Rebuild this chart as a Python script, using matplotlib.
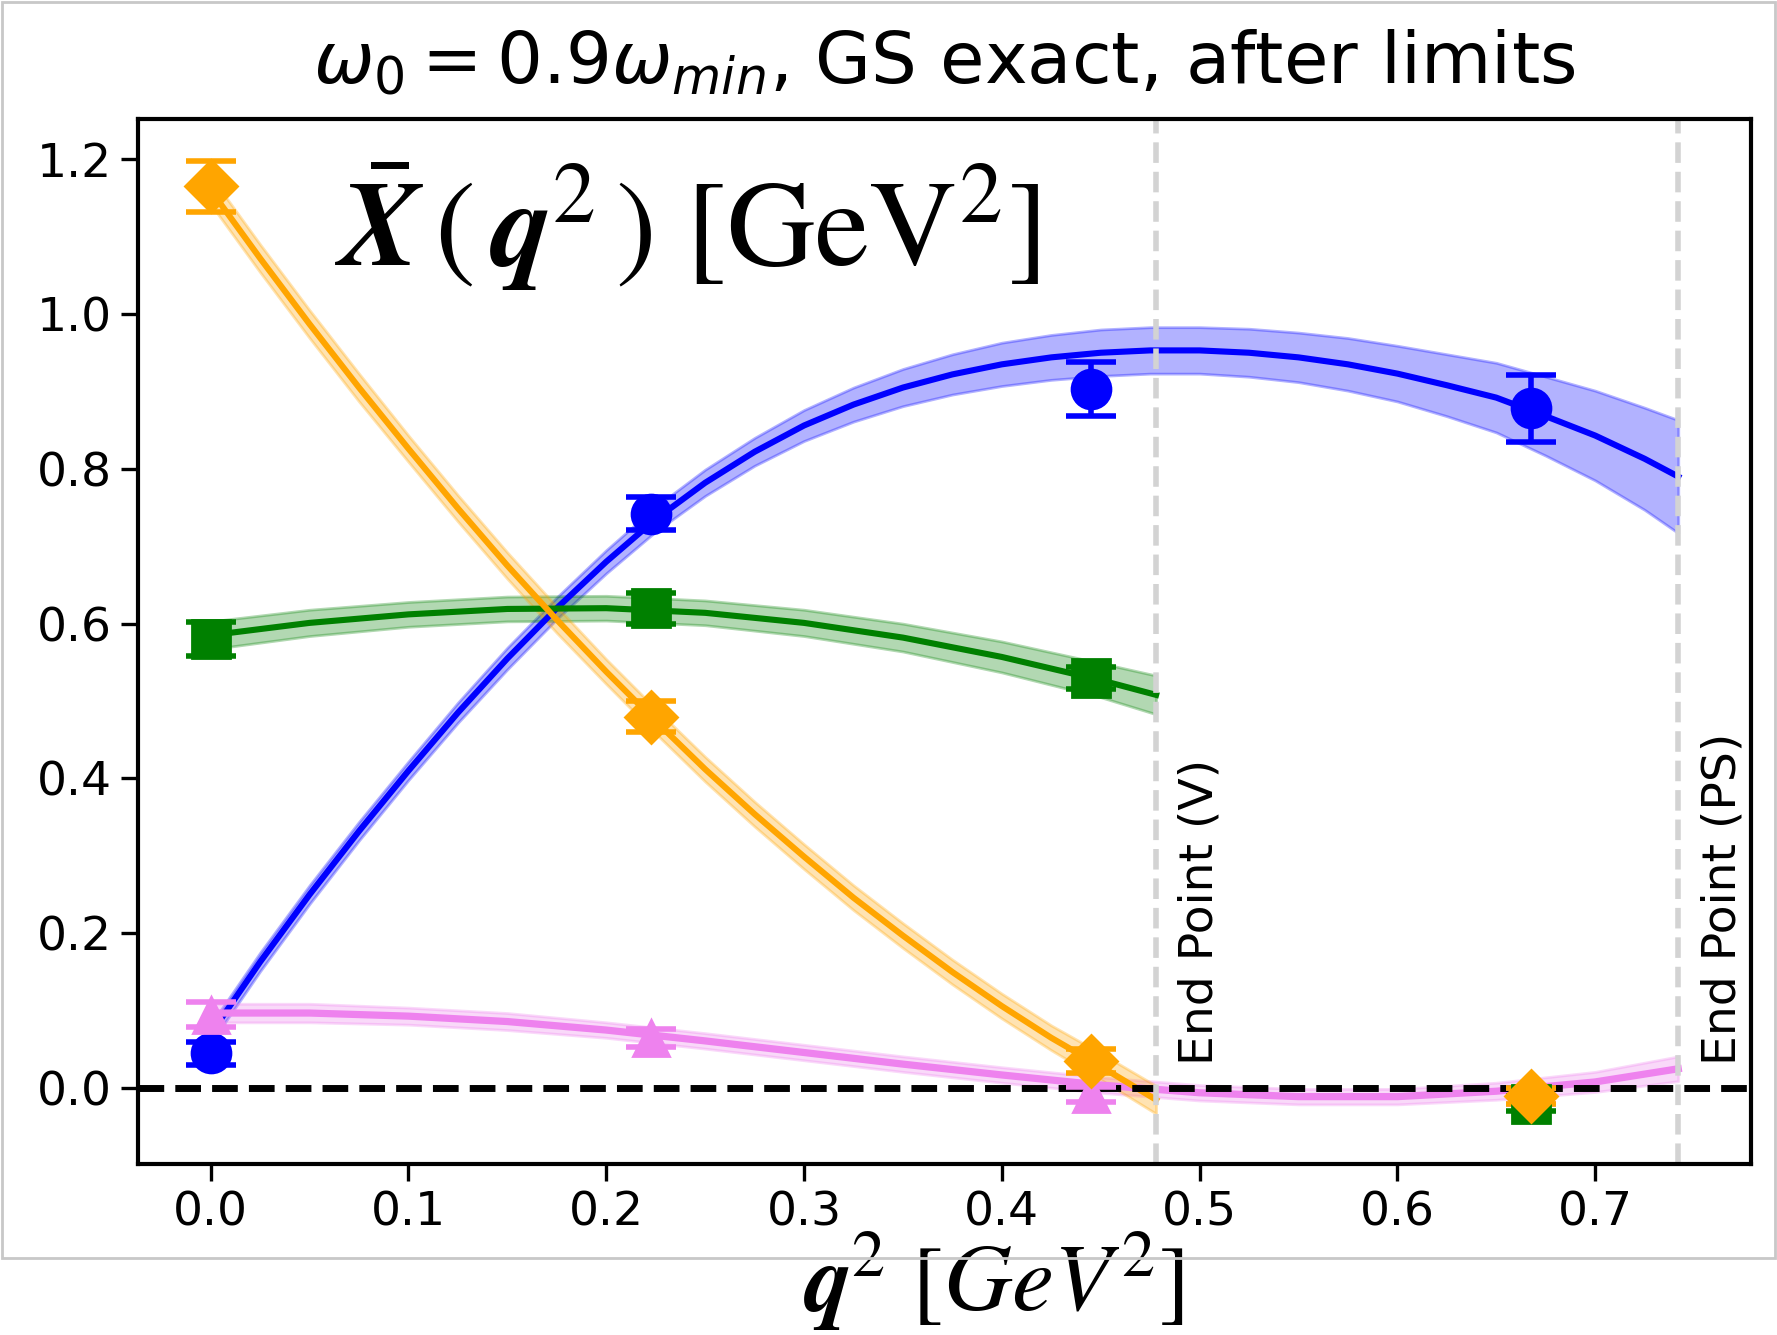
import numpy as np
import matplotlib
matplotlib.use("Agg")
import matplotlib.pyplot as plt
from matplotlib.patches import Rectangle

# lattice points
q2_pts = [0.0, 0.2225, 0.445, 0.6675]

x_blue = [0.045, 0.742, 0.903, 0.878]
x_blue_err = [0.015, 0.021, 0.035, 0.043]
x_green = [0.58, 0.62, 0.53, -0.02]
x_green_err = [0.022, 0.02, 0.014, 0.01]
x_orange = [1.165, 0.48, 0.035, -0.01]
x_orange_err = [0.033, 0.02, 0.015, 0.01]
x_pink = [0.095, 0.065, -0.008, -0.01]
x_pink_err = [0.016, 0.012, 0.01, 0.01]

# fitted curves (up to the end points)
q2_end_v = 0.478
q2_end_ps = 0.742

q2_fit_blue = [0.0, 0.025, 0.05, 0.075, 0.1, 0.125, 0.15, 0.175, 0.2, 0.225,
               0.25, 0.275, 0.3, 0.325, 0.35, 0.375, 0.4, 0.425, 0.45, 0.475,
               0.5, 0.525, 0.55, 0.575, 0.6, 0.625, 0.65, 0.675, 0.7, 0.725, 0.742]
fit_blue = [0.07, 0.163, 0.25, 0.332, 0.41, 0.485, 0.555, 0.62, 0.68, 0.735,
            0.782, 0.822, 0.856, 0.883, 0.905, 0.922, 0.935, 0.944, 0.95, 0.953,
            0.953, 0.95, 0.944, 0.935, 0.923, 0.908, 0.892, 0.868, 0.843, 0.813, 0.79]
fit_blue_err = [0.012, 0.012, 0.012, 0.012, 0.012, 0.013, 0.014, 0.014, 0.015, 0.016,
                0.017, 0.018, 0.02, 0.022, 0.024, 0.026, 0.028, 0.029, 0.03, 0.03,
                0.03, 0.031, 0.032, 0.034, 0.036, 0.04, 0.045, 0.051, 0.058, 0.066, 0.073]

q2_fit_pink = [0.0, 0.05, 0.1, 0.15, 0.2, 0.25, 0.3, 0.35, 0.4, 0.45,
               0.5, 0.55, 0.6, 0.65, 0.7, 0.742]
fit_pink = [0.097, 0.097, 0.093, 0.086, 0.075, 0.061, 0.046, 0.031, 0.017, 0.004,
            -0.006, -0.011, -0.011, -0.004, 0.008, 0.025]
fit_pink_err = [0.012, 0.012, 0.011, 0.011, 0.01, 0.01, 0.01, 0.01, 0.01, 0.01,
                0.01, 0.01, 0.01, 0.011, 0.013, 0.016]

q2_fit_orange = [0.0, 0.025, 0.05, 0.075, 0.1, 0.125, 0.15, 0.175, 0.2, 0.225,
                 0.25, 0.275, 0.3, 0.325, 0.35, 0.375, 0.4, 0.425, 0.45, 0.478]
fit_orange = [1.16, 1.072, 0.987, 0.905, 0.826, 0.749, 0.675, 0.605, 0.538, 0.474,
              0.412, 0.354, 0.299, 0.246, 0.197, 0.15, 0.106, 0.065, 0.028, -0.015]
fit_orange_err = [0.018, 0.018, 0.018, 0.018, 0.017, 0.017, 0.017, 0.017, 0.016, 0.016,
                  0.016, 0.016, 0.016, 0.016, 0.016, 0.016, 0.016, 0.016, 0.017, 0.018]

q2_fit_green = [0.0, 0.05, 0.1, 0.15, 0.2, 0.25, 0.3, 0.35, 0.4, 0.45, 0.478]
fit_green = [0.585, 0.601, 0.612, 0.619, 0.62, 0.614, 0.601, 0.582, 0.557, 0.527, 0.508]
fit_green_err = [0.018, 0.017, 0.016, 0.016, 0.016, 0.016, 0.017, 0.018, 0.02, 0.022, 0.025]

fig = plt.figure(figsize=(8.885, 6.675), dpi=200)
ax = fig.add_axes([0.0777, 0.1281, 0.9077, 0.7828])


def band(q, y, err, color, lw=2.2):
    y = np.array(y)
    err = np.array(err)
    ax.fill_between(q, y - err, y + err, color=color, alpha=0.3, zorder=1)
    ax.plot(q, y, color=color, lw=lw, zorder=2)


band(q2_fit_blue, fit_blue, fit_blue_err, "blue")
band(q2_fit_pink, fit_pink, fit_pink_err, "violet", lw=2.6)
band(q2_fit_green, fit_green, fit_green_err, "green")
band(q2_fit_orange, fit_orange, fit_orange_err, "orange")

ax.axhline(0, color="k", ls="--", lw=2.5, zorder=2)
ax.axvline(q2_end_v, color="lightgray", ls="--", lw=2, zorder=2)
ax.axvline(q2_end_ps, color="lightgray", ls="--", lw=2, zorder=2)

eb = dict(ls="none", capsize=9, elinewidth=2, capthick=2, zorder=3)
ax.errorbar(q2_pts, x_blue, yerr=x_blue_err, fmt="o", color="blue", ms=14, **eb)
ax.errorbar(q2_pts, x_pink, yerr=x_pink_err, fmt="^", color="violet", ms=13, **eb)
ax.errorbar(q2_pts, x_green, yerr=x_green_err, fmt="s", color="green", ms=14, **eb)
ax.errorbar(q2_pts, x_orange, yerr=x_orange_err, fmt="D", color="orange", ms=13, **eb)

ax.text(q2_end_v + 0.011, 0.03, "End Point (V)", rotation=90,
        ha="left", va="bottom", fontsize=17)
ax.text(q2_end_ps + 0.011, 0.03, "End Point (PS)", rotation=90,
        ha="left", va="bottom", fontsize=17)

ax.text(0.122, 0.897,
        r"$\bar{\mathbfit{X}}\,(\,\mathbfit{q}^2\,)\ [\mathrm{GeV}^2]$",
        transform=ax.transAxes, fontsize=44, va="center", ha="left",
        math_fontfamily="stix")

ax.set_title(r"$\omega_0 = 0.9\omega_{min}$, GS exact, after limits",
             fontsize=26, pad=13)
ax.set_xlabel(r"$\mathbfit{q}^2\ [GeV^2]$", fontsize=34, math_fontfamily="stix")
ax.xaxis.set_label_coords(0.53, -0.064)

ax.set_xlim(-0.0367, 0.7788)
ax.set_ylim(-0.098, 1.252)
ax.set_xticks([0.0, 0.1, 0.2, 0.3, 0.4, 0.5, 0.6, 0.7])
ax.set_yticks([0.0, 0.2, 0.4, 0.6, 0.8, 1.0, 1.2])
ax.tick_params(labelsize=17, length=6, width=1.2)
for s in ax.spines.values():
    s.set_linewidth(1.5)

# frame around the figure
fig.add_artist(Rectangle((0.001, 0.0577), 0.998, 0.941, transform=fig.transFigure,
                         fill=False, edgecolor="#c8c8c8", lw=1))

fig.savefig("out.png", dpi=200)
